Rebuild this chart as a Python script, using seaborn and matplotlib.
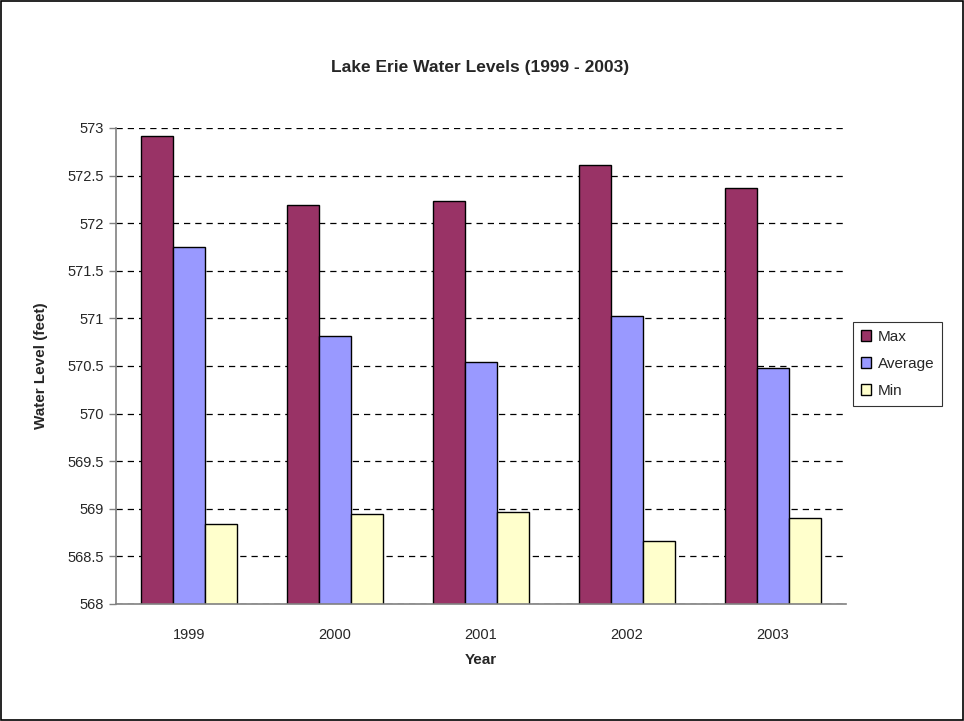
import matplotlib
matplotlib.use("Agg")
import matplotlib.pyplot as plt
import seaborn as sns
import pandas as pd
import numpy as np

years = ["1999", "2000", "2001", "2002", "2003"]
max_levels = [572.92, 572.19, 572.23, 572.61, 572.37]
avg_levels = [571.75, 570.82, 570.54, 571.02, 570.48]
min_levels = [568.84, 568.94, 568.97, 568.66, 568.90]
series_names = ["Max", "Average", "Min"]
colors = ["#993366", "#9999FF", "#FFFFCC"]

df = pd.DataFrame({
    "Year": years * 3,
    "Level": max_levels + avg_levels + min_levels,
    "Series": [s for s in series_names for _ in years],
})

sns.set_style("white")
plt.rcParams["font.family"] = ["Liberation Sans", "DejaVu Sans"]

fig = plt.figure(figsize=(9.64, 7.21), dpi=100)
ax = fig.add_axes([0.1203, 0.1623, 0.7573, 0.6602])

sns.barplot(data=df, x="Year", y="Level", hue="Series", palette=colors,
            width=0.66, edgecolor="black", linewidth=1, ax=ax, saturation=1)

ax.set_ylim(568, 573)
ax.set_yticks(np.arange(568, 573.01, 0.5))
ax.set_yticklabels([f"{v:g}" for v in np.arange(568, 573.01, 0.5)], fontsize=10.5)
ax.set_xlim(-0.5, 4.5)
ax.tick_params(axis="x", which="major", length=0, labelsize=10.5, pad=17)
ax.set_xticks(np.arange(-0.5, 4.51, 1), minor=True)
ax.tick_params(axis="x", which="minor", length=5, color="#808080", width=1, direction="out")
ax.tick_params(axis="y", length=5, color="#808080", width=1, direction="out", left=True)

ax.set_axisbelow(True)
ax.yaxis.grid(True, linestyle=(0, (5, 4)), color="black", linewidth=0.9)
for s in ["top", "right"]:
    ax.spines[s].set_visible(False)
for s in ["left", "bottom"]:
    ax.spines[s].set_color("#808080")
    ax.spines[s].set_linewidth(1.2)

ax.set_xlabel("Year", fontsize=11, fontweight="bold", labelpad=8)
ax.set_ylabel("Water Level (feet)", fontsize=11, fontweight="bold", labelpad=14)
fig.text(0.498, 0.907, "Lake Erie Water Levels (1999 - 2003)", ha="center",
         va="center", fontsize=12.5, fontweight="bold")

ax.legend(title=None, loc="center left", bbox_to_anchor=(0.885, 0.495),
          bbox_transform=fig.transFigure, borderaxespad=0, frameon=True,
          fancybox=False, edgecolor="black", fontsize=11, handlelength=0.7,
          handleheight=0.7, handletextpad=0.4, borderpad=0.5, labelspacing=0.85)
ax.get_legend().get_frame().set_linewidth(0.8)

fig.patches.append(plt.Rectangle((0.001, 0.001), 0.998, 0.997, transform=fig.transFigure,
                                 fill=False, edgecolor="black", linewidth=1.2))

fig.savefig("out.png", dpi=100)
